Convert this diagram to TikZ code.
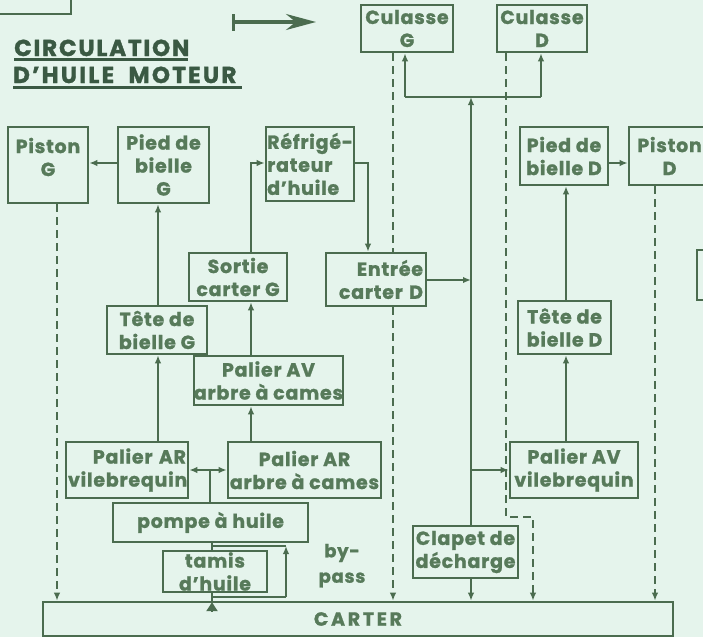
\documentclass[tikz,border=0pt]{standalone}
\usepackage{fontspec}
\setmainfont{Poppins}
\usetikzlibrary{arrows.meta}
\definecolor{bgc}{HTML}{E5F4EC}
\definecolor{lnc}{HTML}{4B6C4F}
\definecolor{txc}{HTML}{577A5A}
\definecolor{ttc}{HTML}{3A5943}
\tikzset{
  boxtext/.style={text=txc, inner sep=0pt, align=center,
    font=\fontsize{19}{23}\selectfont\bfseries\addfontfeature{LetterSpace=4,FakeBold=1.2}},
  box/.style={boxtext, draw=lnc, line width=2.6pt, fill=bgc},
  conn/.style={draw=lnc, line width=2.2pt},
  arr/.style={conn, -{Latex[length=8pt,width=6.5pt]}},
  arrboth/.style={conn, {Latex[length=8pt,width=6.5pt]}-{Latex[length=8pt,width=6.5pt]}},
  darr/.style={conn, line width=2.6pt, dash pattern=on 8pt off 5pt, -{Latex[length=8pt,width=6.5pt]}},
  dline/.style={conn, line width=2.6pt, dash pattern=on 8pt off 5pt},
  titletxt/.style={text=ttc, inner sep=0pt, font=\fontsize{23}{27}\selectfont\bfseries\addfontfeature{FakeBold=1.5}},
  freetxt/.style={text=txc, inner sep=0pt, font=\fontsize{18}{27}\selectfont\bfseries\addfontfeature{LetterSpace=4,FakeBold=1.2}}
}
\begin{document}
\begin{tikzpicture}[x=1pt,y=-1pt]
\useasboundingbox (0,0) rectangle (703,637);
\fill[bgc] (0,0) rectangle (703,637);
\clip (0,0) rectangle (703,637);

% column / row coordinates
\coordinate (cA) at (158,0);
\coordinate (cB) at (251,0);
\coordinate (cC) at (368,0);
\coordinate (cM) at (471,0);
\coordinate (cD) at (566,0);
\coordinate (cP) at (210,0);
\coordinate (cT) at (212,0);
\coordinate (dPG) at (57,0);
\coordinate (dCG) at (393,0);
\coordinate (dCD) at (506,0);
\coordinate (dPD) at (655,0);
\coordinate (r163) at (0,163);
\coordinate (r280) at (0,280);
\coordinate (r470) at (0,470);

% top-left partial box
\draw[conn, line width=2.8pt] (-10,14) -- (71,14) -- (71,-10);

% legend arrow
\coordinate (lgA) at (232,22);
\coordinate (lgB) at (316,22);
\draw[draw=lnc, line width=3.2pt, {Bar[width=17pt,line width=3pt]}-{Stealth[length=30pt,width=16pt]}] (lgA) -- (lgB);

% title
\node[titletxt, anchor=base west, font=\fontsize{23}{27}\selectfont\bfseries\addfontfeature{FakeBold=1.5,LetterSpace=8}] (t1) at (14,56) {CIRCULATION};
\node[titletxt, anchor=base west, font=\fontsize{23}{27}\selectfont\bfseries\addfontfeature{FakeBold=1.5,LetterSpace=10}] (t2) at (13,83) {D'HUILE\ \ MOTEUR};
\draw[draw=ttc, line width=2.8pt] (14,59.5) -- (188,59.5);
\draw[draw=ttc, line width=2.8pt] (13,87.5) -- (242,87.5);

% boxes
\node[box, minimum width=80pt, minimum height=76pt,
  label={[boxtext, yshift=8pt]center:{Piston\\G}}] (pistonG) at (48,165) {};
\node[box, minimum width=91pt, minimum height=76pt] (piedG) at (163.5,165) {Pied de\\bielle\\G};
\node[box, minimum width=88pt, minimum height=74pt, align=left] (refrig) at (310,164) {Réfrigé-\\rateur\\d'huile};
\node[box, minimum width=92pt, minimum height=47pt] (culG) at (407,28.5) {Culasse\\G};
\node[box, minimum width=90pt, minimum height=47pt] (culD) at (542,28.5) {Culasse\\D};
\node[box, minimum width=88pt, minimum height=58pt] (piedD) at (564,156) {Pied de\\bielle D};
\node[box, minimum width=84pt, minimum height=58pt, text width=80pt, align=left] (pistonD) at (671,156) {\ Piston\\\quad\ \ D};
\node[box, minimum width=30pt, minimum height=50pt] (partR) at (712,275) {};
\node[box, minimum width=98pt, minimum height=48pt] (sortieG) at (238,277) {Sortie\\carter G};
\node[box, minimum width=100pt, minimum height=48pt] (teteG) at (157,330) {Tête de\\bielle G};
\node[box, minimum width=149pt, minimum height=49pt] (palAVcam) at (268.5,380.5) {Palier AV\\arbre à cames};
\node[box, minimum width=100pt, minimum height=53pt, text width=94pt, align=right] (entreeD) at (376,279.5) {Entrée\\carter D};
\node[box, minimum width=93pt, minimum height=53pt] (teteD) at (564.5,327.5) {Tête de\\bielle D};
\node[box, minimum width=122pt, minimum height=56pt, text width=118pt, align=right] (palARvil) at (127,470) {Palier AR\\vilebrequin};
\node[box, minimum width=153pt, minimum height=56pt] (palARcam) at (304.5,470) {Palier AR\\arbre à cames};
\node[box, minimum width=195pt, minimum height=39pt] (pompe) at (210.5,522.5) {pompe à huile};
\node[box, minimum width=104pt, minimum height=41pt] (tamis) at (215,571.5) {tamis\\d'huile};
\node[box, minimum width=105pt, minimum height=52pt] (clapet) at (465.5,552) {Clapet de\\décharge};
\node[box, minimum width=128pt, minimum height=56pt] (palAVvil) at (574,470) {Palier AV\\vilebrequin};
\node[box, minimum width=630pt, minimum height=34pt, font=\fontsize{19}{23}\selectfont\bfseries\addfontfeature{LetterSpace=14,FakeBold=1.2}] (carter) at (358,619) {CARTER};

\node[freetxt, anchor=center] (by) at (342,553) {by-};
\node[freetxt, anchor=center] (pass) at (342,580) {pass};

% solid flow connectors
\draw[arr] (teteG.north -| cA) -- (piedG.south -| cA);
\draw[arr] (palARvil.north -| cA) -- (teteG.south -| cA);
\draw[arr] (sortieG.north -| cB) |- (refrig.west |- r163);
\draw[arr] (palAVcam.north -| cB) -- (sortieG.south -| cB);
\draw[arr] (palARcam.north -| cB) -- (palAVcam.south -| cB);
\draw[arr] (refrig.east |- r163) -| (entreeD.north -| cC);
\coordinate (m280) at (471,280);
\draw[arr] (entreeD.east |- r280) -- (m280);
\coordinate (mj) at (471,97);
\coordinate (jl) at (405,97);
\coordinate (jr) at (541,97);
\draw[arr] (clapet.north -| cM) -- (mj);
\draw[conn] (jl) -- (jr);
\draw[arr] (jl) -- (culG.south -| jl);
\draw[arr] (jr) -- (culD.south -| jr);
\coordinate (m470) at (471,470);
\draw[arr] (m470) -- (palAVvil.west |- m470);
\draw[arr] (palAVvil.north -| cD) -- (teteD.south -| cD);
\draw[arr] (teteD.north -| cD) -- (piedD.south -| cD);
\draw[arr] (piedD.east |- r163) -- (pistonD.west |- r163);
\draw[arr] (piedG.west |- r163) -- (pistonG.east |- r163);
\draw[arrboth] (palARvil.east |- r470) -- (palARcam.west |- r470);
\draw[conn] (pompe.north -| cP) -- (r470 -| cP);
\draw[arr] (clapet.south -| cM) -- (carter.north -| cM);

% carter -> tamis -> pompe, by-pass
\draw[conn] (carter.north -| cT) -- (tamis.south -| cT);
\draw[conn, -{Triangle[length=9pt,width=11pt]}] ([yshift=-10pt]carter.north -| cT) -- ([yshift=-1.5pt]carter.north -| cT);
\draw[conn] (tamis.north -| cT) -- (pompe.south -| cT);
\coordinate (bpA) at (212,597);
\coordinate (bpB) at (286,597);
\coordinate (bpC) at (286,546);
\coordinate (bpD) at (212,546);
\draw[conn] (bpA) -- (bpB);
\draw[arr] (bpB) -- (bpC);
\draw[conn] (bpC) -- (bpD);

% dashed returns to carter
\draw[darr] (pistonG.south -| dPG) -- (carter.north -| dPG);
\draw[dline] (culG.south -| dCG) -- (entreeD.north -| dCG);
\draw[darr] (entreeD.south -| dCG) -- (carter.north -| dCG);
\coordinate (dk) at (533,517);
\draw[darr] (culD.south -| dCD) |- (dk) -- (carter.north -| dk);
\draw[darr] (pistonD.south -| dPD) -- (carter.north -| dPD);
\end{tikzpicture}
\end{document}
